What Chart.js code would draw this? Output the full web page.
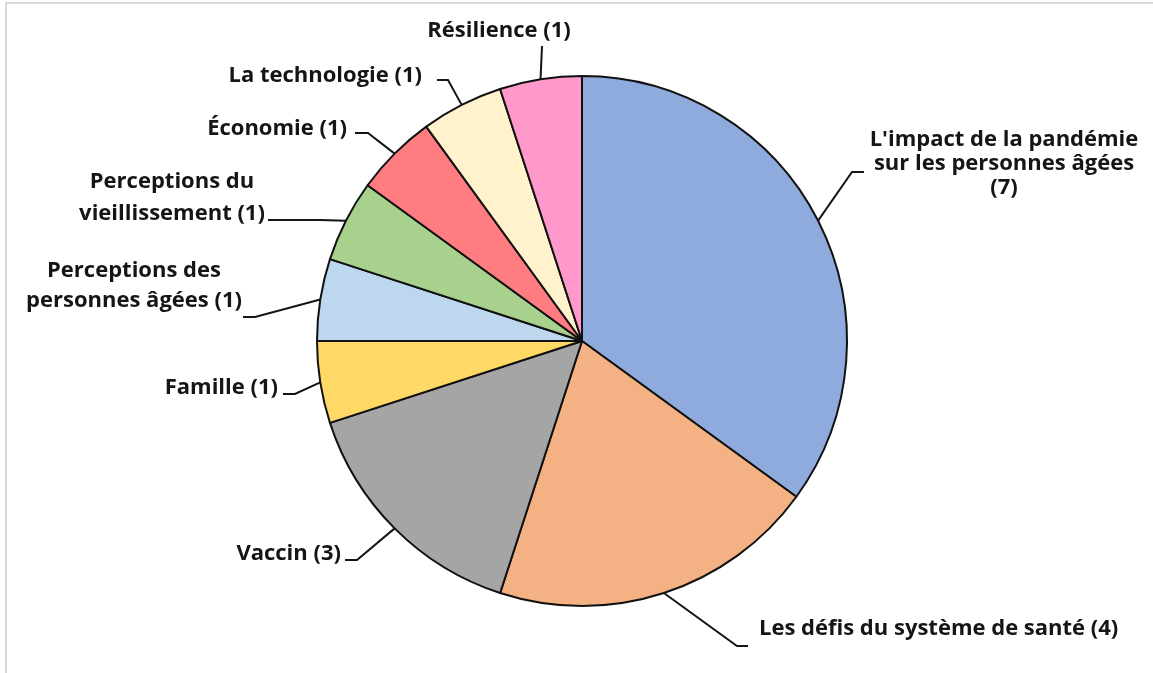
<!DOCTYPE html>
<html>
<head>
<meta charset="utf-8">
<script src="https://cdn.jsdelivr.net/npm/chart.js@4.4.0/dist/chart.umd.min.js"></script>
<style>
    html, body { margin: 0; padding: 0; background: #fff; }
    #wrap { position: relative; width: 1153px; height: 673px; overflow: hidden; }
    #frame { position: absolute; left: 5px; top: 2px; right: -4px; bottom: -4px;
             border-top: 2px solid #d9d9d9; border-left: 2px solid #d9d9d9; }
    canvas { position: absolute; left: 0; top: 0; }
</style>
</head>
<body>
<div id="wrap">
    <div id="frame"></div>
    <canvas id="pieChart" width="1153" height="673"></canvas>
</div>
<script>
// themes and number of mentions, clockwise from 12 o'clock
var categories = [
    "L'impact de la pandémie\nsur les personnes âgées",
    'Les défis du système de santé',
    'Vaccin',
    'Famille',
    'Perceptions des\npersonnes âgées',
    'Perceptions du\nvieillissement',
    'Économie',
    'La technologie',
    'Résilience'
];
var counts = [7, 4, 3, 1, 1, 1, 1, 1, 1];
var sliceColors = [
    '#8FAADC',
    '#F4B183',
    '#A5A5A5',
    '#FFD966',
    '#BDD7EE',
    '#A9D18E',
    '#FF7C80',
    '#FFF2CC',
    '#FF99CC'
];

// where each label sits and where its leader line bends
var labelLayout = [
    { x: 1004, y: 140, lh: 24, align: 'center', elbow: [852, 172], tail: 864, countLine: true },
    { x: 759, y: 629, lh: 24, align: 'left', elbow: [737, 646], tail: 748 },
    { x: 341, y: 554, lh: 24, align: 'right', elbow: [357, 560], tail: 345 },
    { x: 278, y: 388, lh: 24, align: 'right', elbow: [295, 394], tail: 283 },
    { x: 134, y: 271, lh: 30, align: 'center', elbow: [255, 317], tail: 243 },
    { x: 172, y: 182, lh: 32, align: 'center', elbow: [320, 220], tail: 268 },
    { x: 347, y: 129, lh: 24, align: 'right', elbow: [368, 133], tail: 355 },
    { x: 422, y: 76, lh: 24, align: 'right', elbow: [448, 80], tail: 437 },
    { x: 499, y: 31, lh: 24, align: 'center', elbow: [542, 46], tail: 542 }
];

function labelLines(i) {
    var lines = categories[i].split('\n');
    var count = '(' + counts[i] + ')';
    if (labelLayout[i].countLine) {
        lines.push(count);
    } else {
        lines[lines.length - 1] += ' ' + count;
    }
    return lines;
}

var leaderLabels = {
    id: 'leaderLabels',
    afterDatasetsDraw: function (chart) {
        var ctx = chart.ctx;
        var arcs = chart.getDatasetMeta(0).data;
        ctx.save();
        ctx.font = 'bold 22px "Open Sans"';
        ctx.fillStyle = '#151515';
        ctx.strokeStyle = '#151515';
        ctx.lineWidth = 2;
        ctx.textBaseline = 'middle';
        arcs.forEach(function (arc, i) {
            var p = arc.getProps(['x', 'y', 'startAngle', 'endAngle', 'outerRadius'], true);
            var mid = (p.startAngle + p.endAngle) / 2;
            var ax = p.x + Math.cos(mid) * p.outerRadius;
            var ay = p.y + Math.sin(mid) * p.outerRadius;
            var L = labelLayout[i];
            ctx.beginPath();
            ctx.moveTo(ax, ay);
            ctx.lineTo(L.elbow[0], L.elbow[1]);
            ctx.lineTo(L.tail, L.elbow[1]);
            ctx.stroke();
            ctx.textAlign = L.align;
            labelLines(i).forEach(function (t, k) {
                ctx.fillText(t, L.x, L.y + k * L.lh);
            });
        });
        ctx.restore();
    }
};

var ctx = document.getElementById('pieChart').getContext('2d');
new Chart(ctx, {
    type: 'pie',
    data: {
        labels: categories,
        datasets: [{
            data: counts,
            backgroundColor: sliceColors,
            borderColor: '#111',
            borderWidth: 2
        }]
    },
    options: {
        responsive: false,
        animation: false,
        layout: { padding: { left: 316, right: 305, top: 75, bottom: 66 } },
        plugins: {
            legend: { display: false },
            tooltip: { enabled: false }
        },
        events: []
    },
    plugins: [leaderLabels]
});
</script>
</body>
</html>
